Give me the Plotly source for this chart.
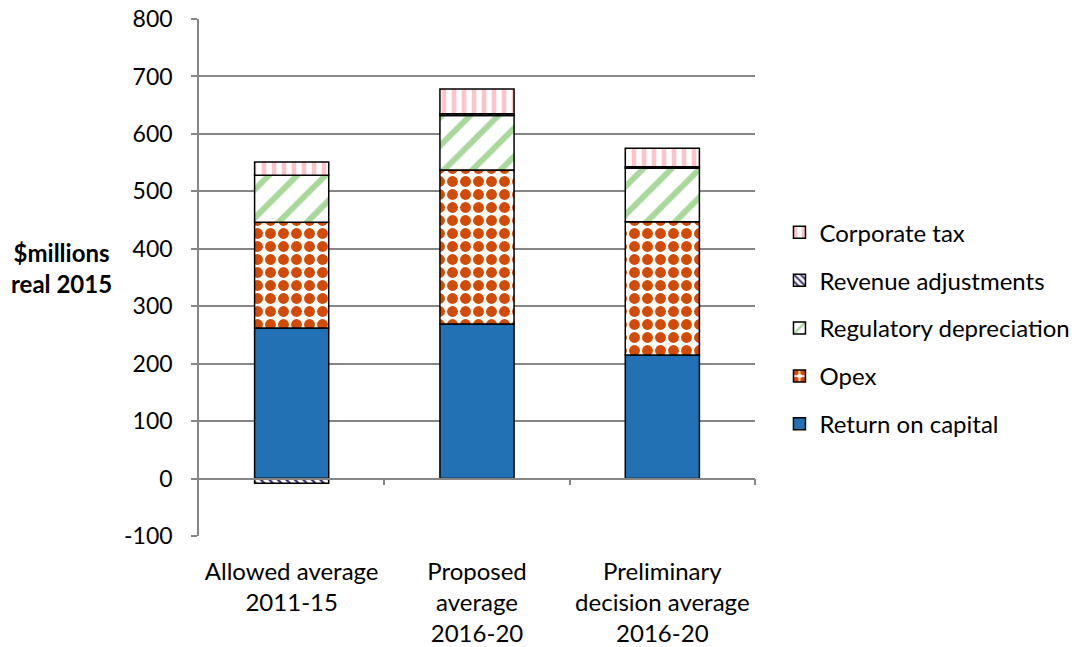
import plotly.graph_objects as go

categories = ["Allowed average<br>2011-15", "Proposed<br>average<br>2016-20", "Preliminary<br>decision average<br>2016-20"]
return_on_capital = [262, 269, 215]
opex = [184, 268, 232]
regulatory_depreciation = [82, 95, 93]
revenue_adjustments = [-8, 3, 3]
corporate_tax = [23, 43, 32]
y_ticks = [-100, 0, 100, 200, 300, 400, 500, 600, 700, 800]
y_tick_text = ["-100", "0", "100", "200", "300", "400", "500", "600", "700", "800"]

FONT = "Lato"
fig = go.Figure()

series = [
    ("Return on capital", return_on_capital, dict(shape="", fgcolor="#2371B5", bgcolor="#2371B5"), "#2371B5"),
    ("Opex", opex, dict(shape=".", fgcolor="#D24A04", bgcolor="white", size=13, solidity=0.55, fillmode="replace"), "white"),
    ("Regulatory depreciation", regulatory_depreciation, dict(shape="/", fgcolor="#A8D89A", bgcolor="white", size=20, solidity=0.3, fillmode="replace"), "white"),
    ("Revenue adjustments", revenue_adjustments, dict(shape="\\", fgcolor="#44327A", bgcolor="white", size=6, solidity=0.4, fillmode="replace"), "white"),
    ("Corporate tax", corporate_tax, dict(shape="|", fgcolor="#FFC2CA", bgcolor="white", size=10, solidity=0.45, fillmode="replace"), "white"),
]

n = len(series)
for i, (name, vals, pat, col) in enumerate(series):
    fig.add_trace(go.Bar(
        x=categories, y=vals, name=name, width=0.4,
        marker=dict(color=col, pattern=pat, line=dict(color="black", width=1.5)),
        legendgroup=name, legendrank=n - i,
    ))

# axis line at zero with category-boundary ticks
fig.add_trace(go.Scatter(x=[None], y=[None], xaxis="x2", showlegend=False))

fig.update_layout(
    width=1085, height=647,
    margin=dict(l=199, r=330, t=19, b=111, autoexpand=False),
    barmode="relative",
    plot_bgcolor="white", paper_bgcolor="white",
    font=dict(family=FONT, size=22, color="black"),
    xaxis=dict(showline=False, ticks="", showgrid=False, automargin=False,
               tickfont=dict(size=24, family=FONT), ticklabelstandoff=19),
    xaxis2=dict(overlaying="x", anchor="free", position=1/9, range=[-0.5, 2.5],
                showline=True, linecolor="#868686", linewidth=1.5,
                ticks="outside", ticklen=6, tickcolor="#868686", tickwidth=1.5,
                tickvals=[0.5, 1.5, 2.5], showticklabels=False, showgrid=False, zeroline=False),
    yaxis=dict(range=[-100, 800], tickvals=y_ticks, ticktext=y_tick_text, automargin=False,
               showline=True, linecolor="#868686", linewidth=1.5,
               ticks="outside", ticklen=6, tickcolor="#868686", tickwidth=1.5,
               showgrid=True, gridcolor="#868686", gridwidth=1.5, zeroline=False,
               tickfont=dict(size=23, family=FONT), ticklabelstandoff=14),
    legend=dict(x=1.044, y=0.402, xanchor="left", yanchor="middle", traceorder="grouped",
                tracegroupgap=13.7, font=dict(size=24, family=FONT)),
    annotations=[dict(text="<b>$millions<br>real 2015</b>", xref="paper", yref="paper",
                      x=-0.248, y=0.518, xanchor="center", yanchor="middle", showarrow=False,
                      font=dict(size=24, family=FONT))],
)

fig.write_html("out.html")
